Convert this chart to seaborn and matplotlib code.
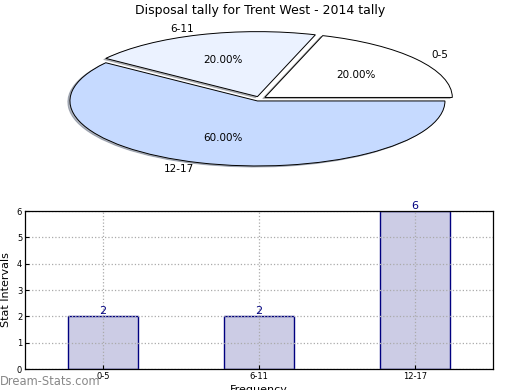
import matplotlib
matplotlib.use("Agg")
import matplotlib.pyplot as plt
import seaborn as sns
import pandas as pd

categories = ["0-5", "6-11", "12-17"]
counts = [2, 2, 6]
pie_colors = ["#FFFFFF", "#EBF2FF", "#C6DAFF"]
title = "Disposal tally for Trent West - 2014 tally"

sns.set_style("white")
plt.rcParams['font.family'] = ['DejaVu Sans']
plt.rcParams.update({"text.color": "black", "axes.labelcolor": "black",
                     "xtick.color": "black", "ytick.color": "black"})

fig = plt.figure(figsize=(5.2, 3.9), dpi=100)

# Pie (squashed into an ellipse)
axp = fig.add_axes([0.0663, 0.5467, 0.8654, 0.40])
wedges, texts, autotexts = axp.pie(
    counts, labels=categories, colors=pie_colors, autopct="%.2f%%",
    startangle=0, counterclock=True, explode=[0.035, 0.035, 0.035],
    shadow={"ox": -0.008, "oy": -0.012, "shade": 0.5},
    wedgeprops=dict(edgecolor="black", linewidth=0.7),
    textprops=dict(fontsize=7.5, color="black"))
axp.set_aspect("auto")
axp.set_xlim(-1.2, 1.2)
axp.set_ylim(-1.2, 1.2)
axp.axis("off")
fig.text(0.5, 0.974, title, ha="center", va="center", fontsize=9)

# Bar chart
axb = fig.add_axes([0.0481, 0.0538, 0.9, 0.405])
df = pd.DataFrame({"cat": categories, "count": counts})
sns.barplot(data=df, x="cat", y="count", ax=axb, width=0.45, saturation=1,
            color="navy")
for p in axb.patches:
    p.set_facecolor((0, 0, 0.5, 0.2))
    p.set_edgecolor("navy")
    p.set_linewidth(1.0)
for i, v in enumerate(counts):
    axb.text(i, v, str(v), ha="center", va="bottom", fontsize=8,
             color="navy")
axb.set_xlim(-0.5, 2.5)
axb.set_ylim(0, 6)
axb.set_yticks(range(0, 7))
axb.grid(True, linestyle=":", color="#aaaaaa", linewidth=0.9)
axb.set_axisbelow(False)
for s in axb.spines.values():
    s.set_visible(True)
    s.set_color("black")
    s.set_linewidth(0.9)
    s.set_zorder(10)
axb.tick_params(axis="both", labelsize=6, direction="in", length=3,
                left=True, bottom=True, pad=2)
axb.set_xlabel("Frequency", fontsize=8, labelpad=3)
axb.set_ylabel("Stat Intervals", fontsize=8, labelpad=4)

fig.text(0.0, 0.023, "Dream-Stats.com", ha="left", va="center",
         fontsize=8.3, color="#888888")

fig.savefig("out.png", dpi=100)
